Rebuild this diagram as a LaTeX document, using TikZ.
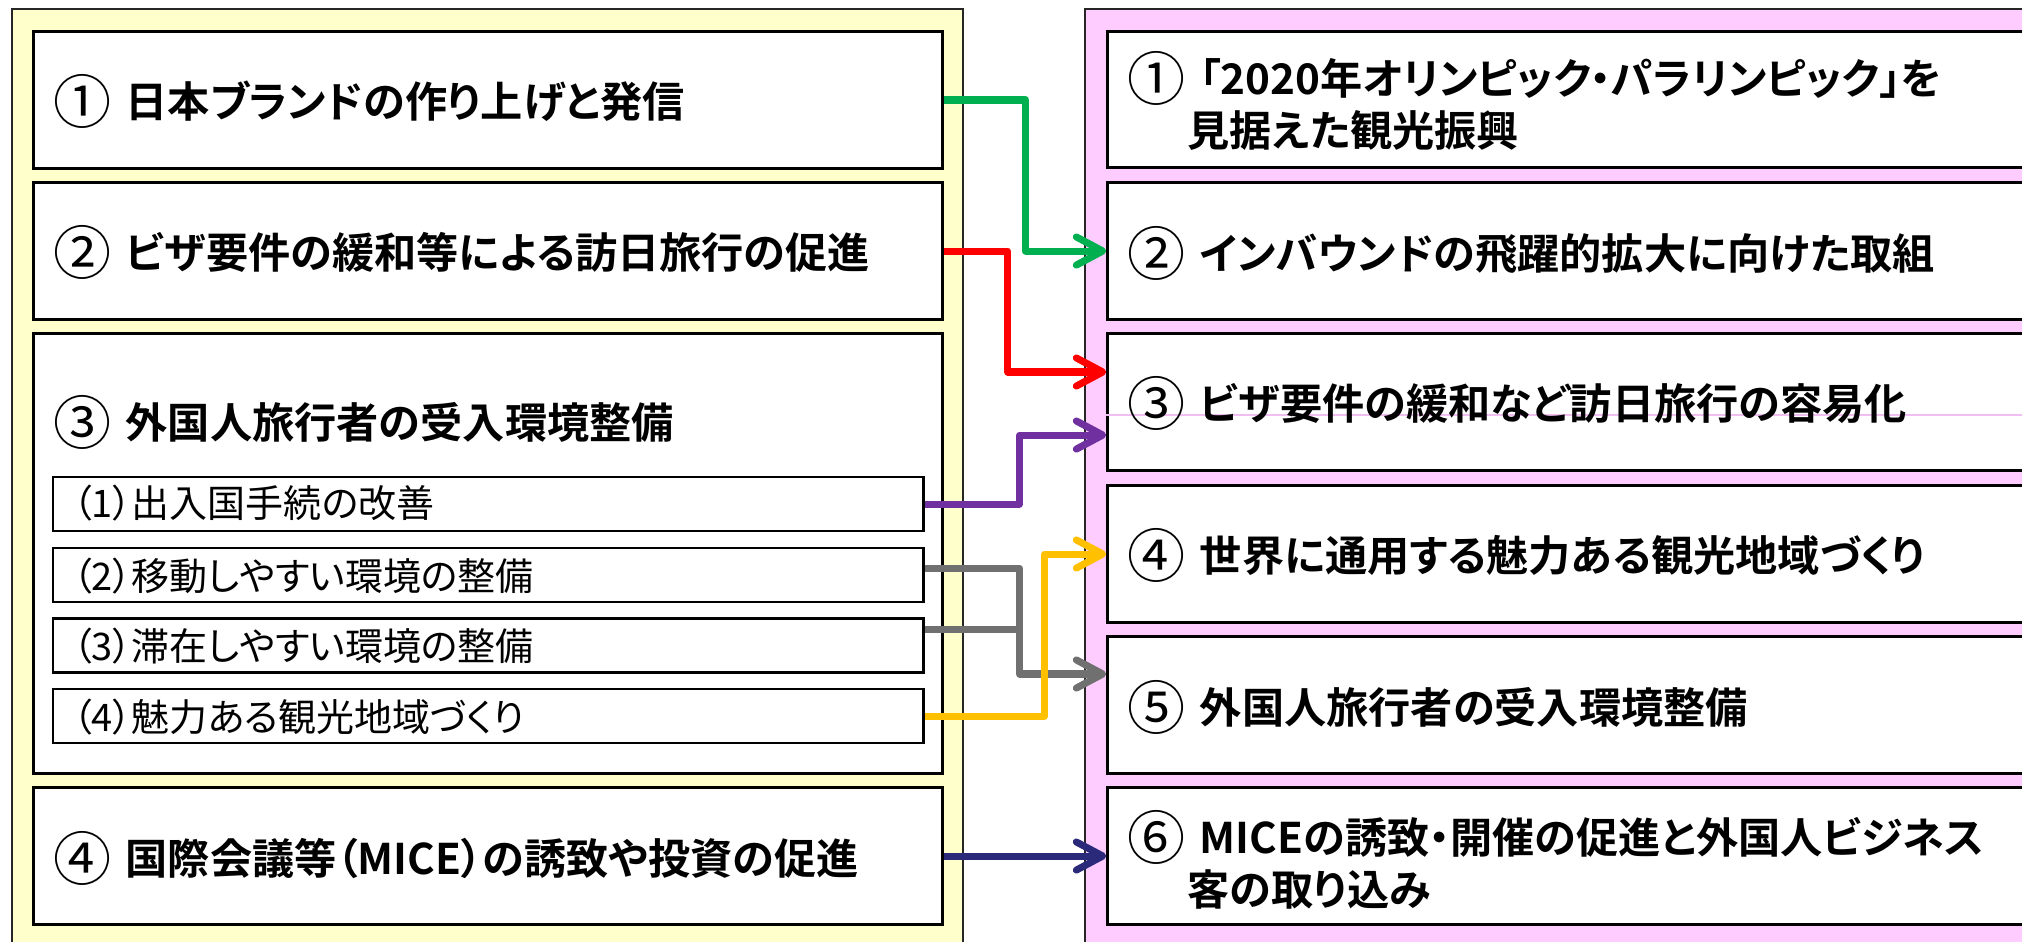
\documentclass[tikz,border=0pt]{standalone}
\usepackage{fontspec}
\newfontfamily\jp[UprightFont=*, BoldFont=* Bold, RawFeature=+palt]{Noto Sans CJK JP}
\usetikzlibrary{arrows.meta}
\definecolor{panelY}{RGB}{255,255,204}
\definecolor{panelP}{RGB}{255,204,255}
\definecolor{cgreen}{RGB}{0,176,80}
\definecolor{cred}{RGB}{255,0,0}
\definecolor{cpurple}{RGB}{112,48,160}
\definecolor{cgray}{RGB}{112,112,112}
\definecolor{corange}{RGB}{255,192,0}
\definecolor{cnavy}{RGB}{43,42,122}
\definecolor{faintpink}{RGB}{240,190,240}
\newcommand\cnum[1]{\makebox[20.5pt][l]{\raisebox{-1.6pt}{\fontsize{16.5pt}{16.5pt}\selectfont\mdseries #1}}}
\begin{document}
\begin{tikzpicture}[x=0.01cm,y=-0.01cm,
 panel/.style={draw=black!85, line width=0.8pt},
 bigbox/.style={draw, fill=white, line width=0.85pt, minimum width=9.08cm, minimum height=1.36cm, inner sep=0pt},
 rbox/.style={draw, fill=white, line width=0.85pt, minimum width=9.52cm, minimum height=1.36cm, inner sep=0pt},
 subbox/.style={draw, fill=white, line width=0.7pt, minimum width=8.70cm, minimum height=0.54cm, inner sep=0pt},
 bigtxt/.style={anchor=west, inner sep=0pt, align=left, font=\jp\bfseries\fontsize{12pt}{14.8pt}\selectfont},
 subtxt/.style={anchor=west, inner sep=0pt, font=\jp\fontsize{10.8pt}{13pt}\selectfont},
 conn/.style={line width=2pt, line join=round, -{Straight Barb[length=7.5pt,width=8pt,round]}},
 plain/.style={line width=2pt, line join=round},
]
\useasboundingbox (0,0) rectangle (2022,941);
\clip (0,0) rectangle (2022,941);
\fill[white] (0,0) rectangle (2022,941);
% panels
\draw[panel, fill=panelY] (12,9) rectangle (963,980);
\draw[panel, fill=panelP] (1085,9) rectangle (2080,980);
% left boxes
\node[bigbox] (L1) at (488,100) {};
\node[bigbox] (L2) at (488,251) {};
\node[bigbox, minimum height=4.39cm] (L3) at (488,553.5) {};
\node[bigbox] (L4) at (488,856) {};
\node[subbox] (S1) at (488,504) {};
\node[subbox] (S2) at (488,575) {};
\node[subbox] (S3) at (488,645.5) {};
\node[subbox] (S4) at (488,716) {};
% right boxes
\node[rbox] (R1) at (1584,99.5) {};
\node[rbox] (R2) at (1584,251) {};
\node[rbox] (R3) at (1584,402) {};
\node[rbox] (R4) at (1584,554) {};
\node[rbox] (R5) at (1584,705) {};
\node[rbox] (R6) at (1584,856) {};
\draw[faintpink, line width=0.4pt] ([yshift=-0.13cm]R3.west) -- ([yshift=-0.13cm]R3.east);
% left texts
\node[bigtxt] (L1t) at (53,101) {\cnum{①}日本ブランドの作り上げと発信};
\node[bigtxt] (L2t) at (53,252) {\cnum{②}ビザ要件の緩和等による訪日旅行の促進};
\node[bigtxt] (L3t) at (53,422) {\cnum{③}外国人旅行者の受入環境整備};
\node[bigtxt] (L4t) at (53,858) {\cnum{④}国際会議等（MICE）の誘致や投資の促進};
\node[subtxt] (S1t) at (72,503) {（1）出入国手続の改善};
\node[subtxt] (S2t) at (72,576) {（2）移動しやすい環境の整備};
\node[subtxt] (S3t) at (72,646) {（3）滞在しやすい環境の整備};
\node[subtxt] (S4t) at (72,717) {（4）魅力ある観光地域づくり};
% right texts
\node[bigtxt] (R1t) at (1127,101) {\cnum{①}「2020年オリンピック・パラリンピック」を\\\hspace*{0.6cm}見据えた観光振興};
\node[bigtxt] (R2t) at (1127,253) {\cnum{②}インバウンドの飛躍的拡大に向けた取組};
\node[bigtxt] (R3t) at (1127,403) {\cnum{③}ビザ要件の緩和など訪日旅行の容易化};
\node[bigtxt] (R4t) at (1127,555) {\cnum{④}世界に通用する魅力ある観光地域づくり};
\node[bigtxt] (R5t) at (1127,707) {\cnum{⑤}外国人旅行者の受入環境整備};
\node[bigtxt] (R6t) at (1127,860) {\cnum{⑥}MICEの誘致・開催の促進と外国人ビジネス\\\hspace*{0.6cm}客の取り込み};
% connectors
\draw[conn, draw=cgreen] (L1.east) -- ++(82,0) |- (R2.west);
\draw[conn, draw=cred] (L2.east) -- ++(64,0) |- ([yshift=0.30cm]R3.west);
\draw[conn, draw=cpurple] (S1.east) -- ++(95,0) |- ([yshift=-0.33cm]R3.west);
\draw[plain, draw=cgray] ([yshift=0.165cm]S3.east) -- ++(95,0);
\draw[conn, draw=cgray] ([yshift=0.07cm]S2.east) -- ++(95,0) |- ([yshift=0.31cm]R5.west);
\draw[conn, draw=corange] (S4.east) -- ++(120,0) |- (R4.west);
\draw[conn, draw=cnavy] (L4.east) -- (R6.west);
\end{tikzpicture}
\end{document}
